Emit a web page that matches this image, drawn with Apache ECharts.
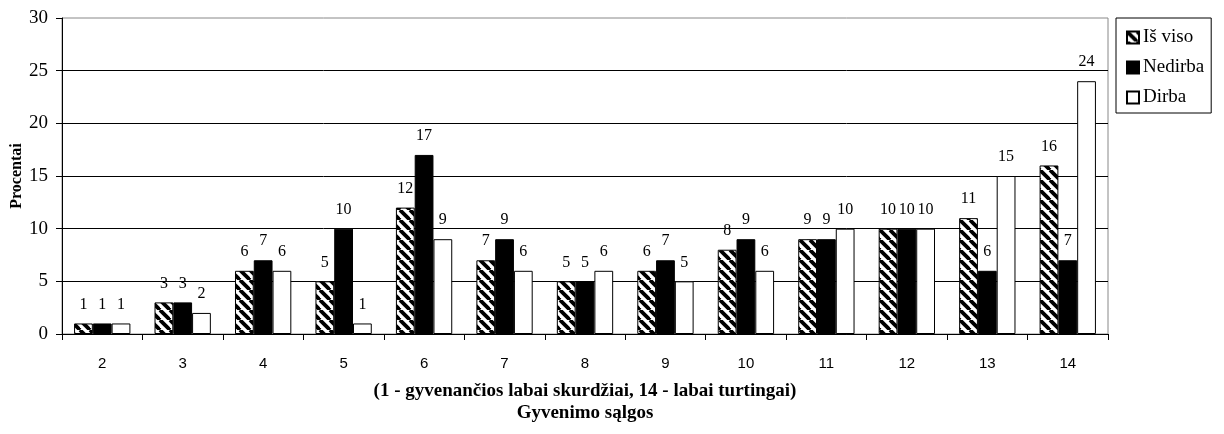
<!DOCTYPE html>
<html>
<head>
<meta charset="utf-8">
<script src="https://cdn.jsdelivr.net/npm/echarts@6/dist/echarts.min.js"></script>
<style>
  html, body { margin: 0; padding: 0; background: #fff; }
  #chart { width: 1224px; height: 434px; }
</style>
</head>
<body>
<div id="chart"></div>
<script>
// data
var categories = ['2', '3', '4', '5', '6', '7', '8', '9', '10', '11', '12', '13', '14'];
var isViso = [1, 3, 6, 5, 12, 7, 5, 6, 8, 9, 10, 11, 16];
var nedirba = [1, 3, 7, 10, 17, 9, 5, 7, 9, 9, 10, 6, 7];
var dirba = [1, 2, 6, 1, 9, 6, 6, 5, 6, 10, 10, 15, 24];

// diagonal hatch for "Iš viso"
function hatch() {
  var s = 10;
  var c = document.createElement('canvas');
  c.width = s; c.height = s;
  var ctx = c.getContext('2d');
  ctx.fillStyle = '#fff';
  ctx.fillRect(0, 0, s, s);
  ctx.strokeStyle = '#000';
  ctx.lineWidth = 3.8;
  for (var k = -s; k <= s; k += s) {
    ctx.beginPath();
    ctx.moveTo(k, 0);
    ctx.lineTo(k + s, s);
    ctx.stroke();
  }
  return c;
}

var serif = '"Liberation Serif", "Times New Roman", serif';
var sans = '"Liberation Sans", Arial, sans-serif';

var myChart = echarts.init(document.getElementById('chart'));

var labelOpt = {
  show: true,
  position: 'top',
  distance: 11,
  color: '#000',
  fontFamily: serif,
  fontSize: 16
};
var borderStyle = { borderColor: '#000', borderWidth: 1 };

myChart.setOption({
  animation: false,
  backgroundColor: '#fff',
  grid: {
    left: 62,
    right: 116,
    top: 18,
    bottom: 100,
    outerBoundsMode: 'none',
    containLabel: false,
    show: true,
    borderColor: '#888',
    borderWidth: 1
  },
  legend: {
    orient: 'vertical',
    left: 1116,
    top: 18,
    padding: [10, 7, 6, 10],
    itemGap: 11,
    itemWidth: 12,
    itemHeight: 12,
    icon: 'rect',
    borderColor: '#000',
    borderWidth: 1,
    borderRadius: 0,
    textStyle: { fontFamily: serif, fontSize: 19, color: '#000', padding: [0, 0, 0, -1] },
    data: ['Iš viso', 'Nedirba', 'Dirba']
  },
  xAxis: {
    type: 'category',
    data: categories,
    axisLine: { lineStyle: { color: '#000', width: 1 } },
    axisTick: { show: true, length: 6, lineStyle: { color: '#000' } },
    axisLabel: { margin: 22, fontFamily: sans, fontSize: 15, color: '#000' },
    name: '(1 - gyvenančios labai skurdžiai, 14 - labai turtingai)\nGyvenimo sąlgos',
    nameLocation: 'middle',
    nameGap: 46,
    nameMoveOverlap: false,
    nameTextStyle: {
      fontFamily: serif, fontSize: 19, fontWeight: 'bold', color: '#000', lineHeight: 22
    }
  },
  yAxis: {
    type: 'value',
    min: 0,
    max: 30,
    interval: 5,
    axisLine: { show: true, lineStyle: { color: '#000', width: 1 } },
    axisTick: { show: true, length: 6, lineStyle: { color: '#000' } },
    axisLabel: { margin: 14, fontFamily: serif, fontSize: 19, color: '#000' },
    splitLine: { show: true, showMaxLine: false, lineStyle: { color: '#000', width: 1 } },
    name: 'Procentai',
    nameLocation: 'middle',
    nameGap: 37,
    nameMoveOverlap: false,
    nameRotate: 90,
    nameTextStyle: { fontFamily: serif, fontSize: 16, fontWeight: 'bold', color: '#000' }
  },
  series: [
    {
      name: 'Iš viso',
      type: 'bar',
      data: isViso,
      barGap: '0%',
      barCategoryGap: '30%',
      itemStyle: Object.assign({ color: { image: hatch(), repeat: 'repeat' } }, borderStyle),
      label: labelOpt
    },
    {
      name: 'Nedirba',
      type: 'bar',
      data: nedirba,
      barGap: '0%',
      barCategoryGap: '30%',
      itemStyle: Object.assign({ color: '#000' }, borderStyle),
      label: labelOpt
    },
    {
      name: 'Dirba',
      type: 'bar',
      data: dirba,
      barGap: '0%',
      barCategoryGap: '30%',
      itemStyle: Object.assign({ color: '#fff' }, borderStyle),
      label: labelOpt
    }
  ]
});
</script>
</body>
</html>
